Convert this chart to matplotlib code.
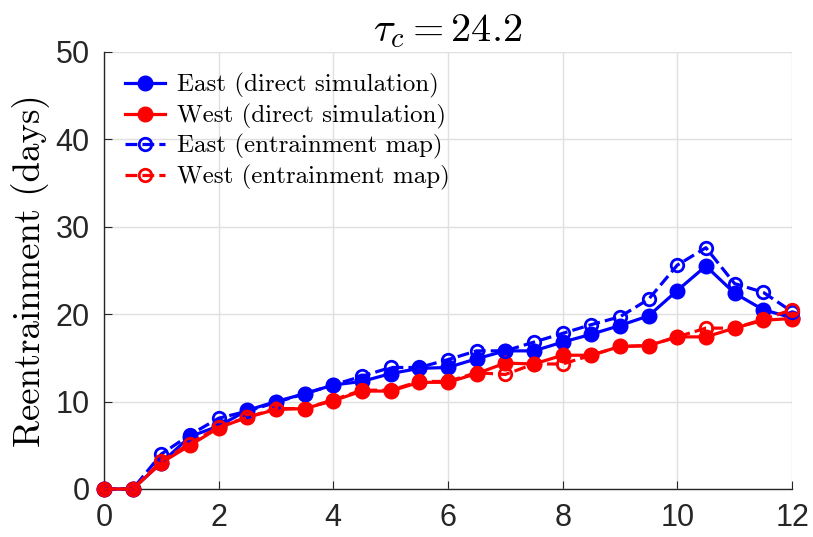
import numpy as np
import matplotlib.pyplot as plt

plt.rcParams["mathtext.fontset"] = "cm"
plt.rcParams["axes.formatter.use_mathtext"] = True

# jet lag size (hours shifted), one point every half hour
shift = np.arange(0, 12.5, 0.5)

east_direct = [0, 0, 3.0, 6.0, 7.2, 9.0, 10.0, 10.9, 11.9, 12.3, 13.2, 13.8, 13.9,
               14.9, 15.8, 15.8, 16.8, 17.7, 18.7, 19.8, 22.7, 25.5, 22.4, 20.5, 19.6]
west_direct = [0, 0, 3.0, 5.0, 7.0, 8.2, 9.1, 9.2, 10.1, 11.2, 11.2, 12.2, 12.2,
               13.2, 14.4, 14.3, 15.3, 15.3, 16.3, 16.4, 17.4, 17.4, 18.4, 19.3, 19.5]
east_map = [0, 0, 4.0, 6.2, 8.1, 8.9, 9.9, 10.9, 11.9, 12.9, 13.9, 13.9, 14.8,
            15.8, 15.8, 16.8, 17.8, 18.8, 19.7, 21.7, 25.6, 27.6, 23.5, 22.5, 20.3]
west_map = [0, 0, 3.2, 5.2, 7.1, 8.2, 9.2, 9.2, 10.2, 11.3, 11.3, 12.3, 12.3,
            13.3, 13.1, 14.3, 14.3, 15.3, 16.3, 16.4, 17.4, 18.4, 18.4, 19.4, 20.5]

xticks = [0, 2, 4, 6, 8, 10, 12]
yticks = [0, 10, 20, 30, 40, 50]

fig = plt.figure(figsize=(8.13, 5.37), dpi=100)
ax = fig.add_axes([0.128, 0.0894, 0.846, 0.814])

ax.plot(shift, east_direct, "-o", color="#0000ff", lw=2.3, ms=10.5,
        label="East (direct simulation)", zorder=3, clip_on=False)
ax.plot(shift, west_direct, "-o", color="#ff0000", lw=2.3, ms=10.5,
        label="West (direct simulation)", zorder=3, clip_on=False)
ax.plot(shift, east_map, "--o", color="#0000ff", lw=2.3, ms=9, mew=2,
        fillstyle="none", label="East (entrainment map)", zorder=4, clip_on=False)
ax.plot(shift, west_map, "--o", color="#ff0000", lw=2.3, ms=9, mew=2,
        fillstyle="none", label="West (entrainment map)", zorder=4, clip_on=False)

ax.set_xlim(0, 12)
ax.set_ylim(0, 50)
ax.set_xticks(xticks)
ax.set_yticks(yticks)
ax.grid(True, color="#e0e0e0", lw=1)
ax.set_axisbelow(True)

for side in ["top", "right"]:
    ax.spines[side].set_visible(False)
for side in ["left", "bottom"]:
    ax.spines[side].set_color("#262626")
    ax.spines[side].set_linewidth(1)
ax.tick_params(direction="in", length=6, width=0.8, color="#262626",
               labelsize=22, labelcolor="#262626", pad=10)
for lab in ax.get_xticklabels() + ax.get_yticklabels():
    lab.set_family("Liberation Sans")

ax.set_ylabel("Reentrainment (days)", family="cmr10", fontsize=26.5, labelpad=4)
ax.set_title(r"$\tau_c = 24.2$", fontsize=29, pad=8)

ax.legend(loc="upper left", frameon=False, prop={"family": "cmr10", "size": 18},
          handlelength=1.6, handletextpad=0.45, labelspacing=0.22,
          borderaxespad=0.45)

fig.savefig("out.png", dpi=100)
